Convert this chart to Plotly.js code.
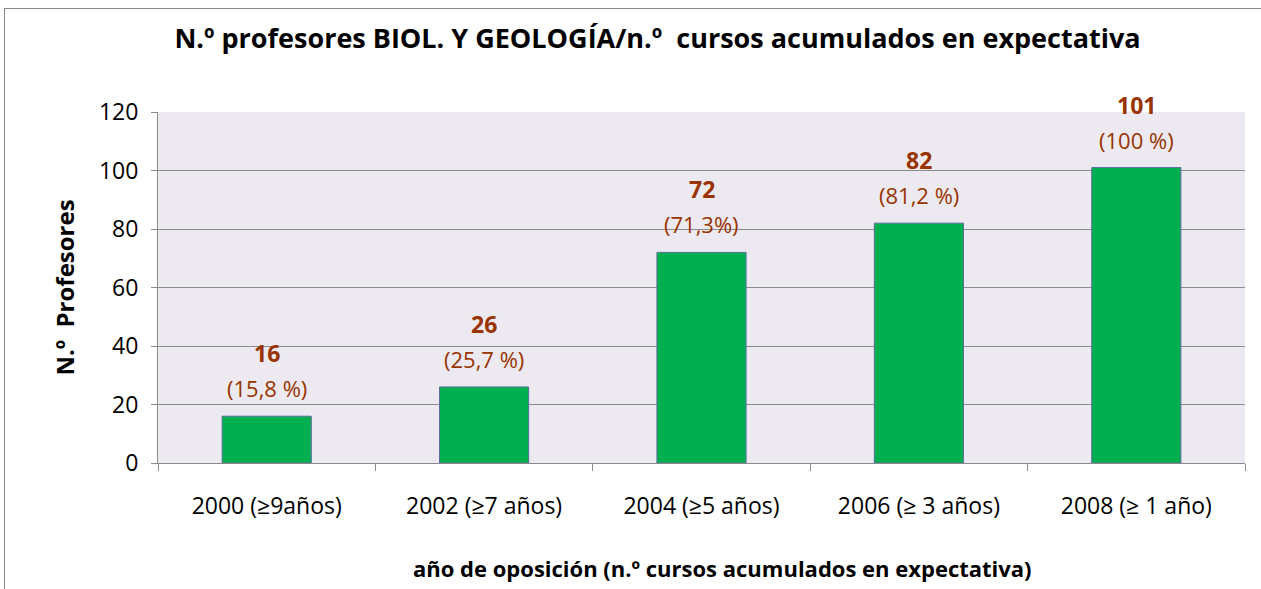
<!DOCTYPE html>
<html>
<head>
<meta charset="utf-8">
<script src="https://cdn.plot.ly/plotly-3.0.1.min.js"></script>
<style>
html,body{margin:0;padding:0;background:#fff;}
#frame{position:absolute;left:4px;top:8px;width:1300px;height:700px;border-left:1px solid #8a8a8a;border-top:1px solid #8a8a8a;}
#chart{position:absolute;left:0;top:0;width:1261px;height:589px;}
</style>
</head>
<body>
<div id="frame"></div>
<div id="chart"></div>
<script>
const categories = ["2000 (≥9años)", "2002 (≥7 años)", "2004 (≥5 años)", "2006 (≥ 3 años)", "2008 (≥ 1 año)"];
const profesores = [16, 26, 72, 82, 101];
const valueLabels = ["16", "26", "72", "82", "101"];
const pctLabels = ["(15,8 %)", "(25,7 %)", "(71,3%)", "(81,2 %)", "(100 %)"];
const yTicks = [0, 20, 40, 60, 80, 100, 120];
const chartTitle = "N.º profesores BIOL. Y GEOLOGÍA/n.º  cursos acumulados en expectativa";
const xTitle = "año de oposición (n.º cursos acumulados en expectativa)";
const yTitle = "N.º  Profesores";

const FONT = "Open Sans, sans-serif";
const labelColor = "#993300";

const annotations = [];
categories.forEach((c, i) => {
  annotations.push({x: c, y: profesores[i], xref: "x", yref: "y", text: "<b>" + valueLabels[i] + "</b>",
    showarrow: false, yshift: 63, font: {family: FONT, size: 23, color: labelColor}});
  annotations.push({x: c, y: profesores[i], xref: "x", yref: "y", text: pctLabels[i],
    showarrow: false, yshift: 28, font: {family: FONT, size: 22, color: labelColor}});
});
annotations.push({x: 0.519, y: -0.299, xref: "paper", yref: "paper", xanchor: "center", yanchor: "middle",
  text: "<b>" + xTitle + "</b>", showarrow: false, font: {family: FONT, size: 22, color: "#000"}});

const trace = {
  type: "bar",
  x: categories,
  y: profesores,
  width: 0.41,
  marker: {color: "#00B050", line: {color: "#5a6e9a", width: 1}},
  hoverinfo: "x+y"
};

const layout = {
  width: 1261, height: 589,
  margin: {l: 158, r: 16, t: 112, b: 126},
  paper_bgcolor: "rgba(0,0,0,0)",
  plot_bgcolor: "#ECEAF0",
  showlegend: false,
  title: {text: "<b>" + chartTitle + "</b>",
    font: {family: FONT, size: 27, color: "#000"}, x: 0.5214, xanchor: "center", xref: "container", y: 0.934, yanchor: "middle"},
  xaxis: {
    type: "category",
    tickson: "boundaries",
    ticks: "outside", ticklen: 7, tickcolor: "#8a8a8a", tickwidth: 1,
    showline: true, linecolor: "#8a8a8a", linewidth: 1,
    showgrid: false,
    ticklabelstandoff: 22,
    tickfont: {family: FONT, size: 23, color: "#000"}
  },
  yaxis: {
    range: [0, 120],
    tickvals: yTicks,
    ticks: "outside", ticklen: 6, tickcolor: "#8a8a8a",
    showline: true, linecolor: "#8a8a8a", linewidth: 1,
    showgrid: true, gridcolor: "#8c8c8c", gridwidth: 1,
    zeroline: false,
    tickfont: {family: FONT, size: 23, color: "#000"},
    ticklabelstandoff: 8,
    title: {text: "<b>" + yTitle + "</b>", standoff: 17, font: {family: FONT, size: 24, color: "#000"}}
  },
  annotations: annotations,
  bargap: 0.59
};

Plotly.newPlot("chart", [trace], layout, {displayModeBar: false});
</script>
</body>
</html>
